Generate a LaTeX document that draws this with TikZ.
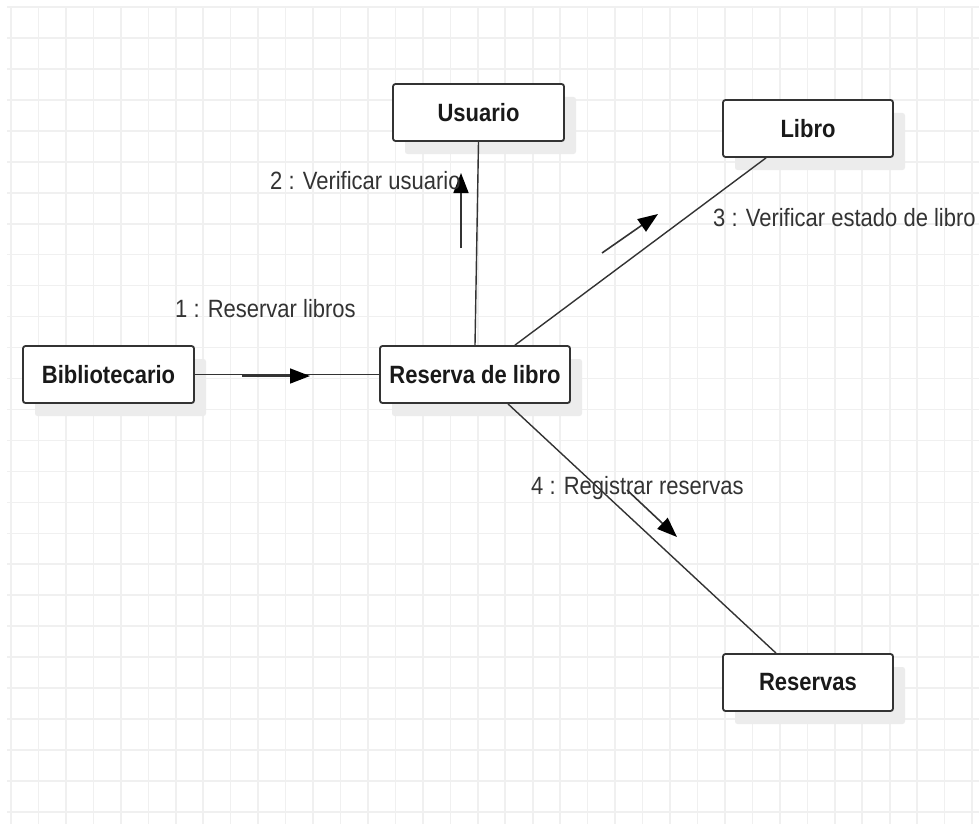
\documentclass[tikz,border=0pt]{standalone}
\usepackage{fontspec}
\setmainfont{Liberation Sans}[FakeStretch=0.88]
\usepackage{xcolor}
\usepackage{tikz}
\usetikzlibrary{arrows.meta, positioning, calc, shadows}

\definecolor{edgegray}{HTML}{333333}
\definecolor{gridgray}{HTML}{F0F0F0}
\definecolor{shadowgray}{HTML}{ECECEC}

\begin{document}
\begin{tikzpicture}[
    x=1pt, y=-1pt,
    object/.style={draw=edgegray, line width=1.8pt, fill=white, rounded corners=2.5pt,
        minimum height=57pt, inner sep=0pt, font=\fontsize{25}{30}\selectfont\bfseries,
        text=black!90, general shadow={shadow xshift=12pt, shadow yshift=-13pt, fill=shadowgray}},
    link/.style={draw=edgegray, line width=1.4pt},
    msg/.style={-{Triangle[length=20pt, width=15pt, color=black]}, line width=1.6pt, draw=edgegray},
    msglabel/.style={anchor=west, inner sep=0pt, text=edgegray, font=\fontsize{25}{30}\selectfont},
    gridline/.style={draw=gridgray, line width=1.6pt}
]
    \useasboundingbox (0,0) rectangle (979,824);
    \fill[white] (0,0) rectangle (979,824);

    % Grid
    \foreach \gx in {0,...,35}
        \draw[gridline] ({11+27.46*\gx}, 7) -- ({11+27.46*\gx}, 824);
    \foreach \gy in {0,...,26}
        \draw[gridline] (7, {7+30.96*\gy}) -- (979, {7+30.96*\gy});

    % Objects
    \node[object, minimum width=171pt] (bib) at (108.5, 374.5) {Bibliotecario};
    \node[object, minimum width=190pt] (res) at (475, 374.5) {Reserva de libro};
    \node[object, minimum width=171pt] (usu) at (478.5, 112.5) {Usuario};
    \node[object, minimum width=170pt] (lib) at (808, 128.5) {Libro};
    \node[object, minimum width=170pt] (rsv) at (808, 682.5) {Reservas};

    % Links
    \draw[link] (bib.east) -- (res.west);
    \draw[link] (usu.south) -- (res.north);
    \draw[link] ([xshift=-42pt]lib.south) -- ([xshift=40pt]res.north);
    \draw[link] ([xshift=33pt]res.south) -- ([xshift=-32pt]rsv.north);

    % Messages
    \coordinate (m1a) at (242, 376);
    \coordinate (m1b) at (310, 376);
    \coordinate (m2a) at (461, 248);
    \coordinate (m2b) at (461, 173);
    \coordinate (m3a) at (602, 253);
    \coordinate (m3b) at (658, 214);
    \coordinate (m4a) at (627, 490);
    \coordinate (m4b) at (677, 537);
    \draw[msg] (m1a) -- (m1b);
    \draw[msg] (m2a) -- (m2b);
    \draw[msg] (m3a) -- (m3b);
    \draw[msg] (m4a) -- (m4b);

    \node[msglabel] (t1) at (175, 309) {1 : Reservar libros};
    \node[msglabel] (t2) at (270, 181) {2 : Verificar usuario};
    \node[msglabel] (t3) at (713, 218) {3 : Verificar estado de libro};
    \node[msglabel] (t4) at (531, 488) {4 : Registrar reservas};
\end{tikzpicture}
\end{document}
